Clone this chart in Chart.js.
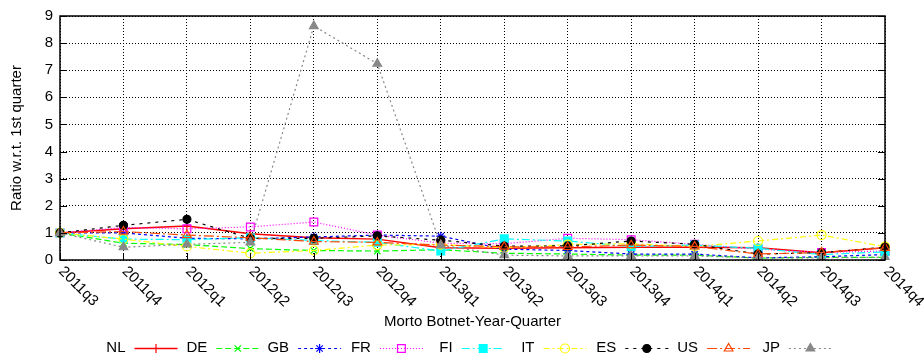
<!DOCTYPE html>
<html>
<head>
<meta charset="utf-8">
<script src="https://cdn.jsdelivr.net/npm/chart.js@4/dist/chart.umd.min.js"></script>
<style>
  html, body { margin: 0; padding: 0; background: #fff; }
  #wrap { width: 924px; height: 360px; }
</style>
</head>
<body>
<div id="wrap"><canvas id="c" width="924" height="360"></canvas></div>
<script>
// Quarter labels along the x axis
const quarters = ['2011q3','2011q4','2012q1','2012q2','2012q3','2012q4','2013q1',
                  '2013q2','2013q3','2013q4','2014q1','2014q2','2014q3','2014q4'];

// Ratio of infections relative to the first quarter, per country
const NL = [1.00, 1.15, 1.25, 0.97, 0.82, 0.77, 0.45, 0.43, 0.45, 0.47, 0.47, 0.45, 0.27, 0.45];
const DE = [1.00, 0.62, 0.57, 0.42, 0.35, 0.33, 0.38, 0.25, 0.22, 0.18, 0.18, 0.07, 0.10, 0.10];
const GB = [1.00, 1.00, 0.80, 0.78, 0.85, 0.92, 0.88, 0.40, 0.35, 0.22, 0.22, 0.08, 0.12, 0.20];
const FR = [1.00, 1.20, 1.15, 1.22, 1.40, 0.92, 0.62, 0.60, 0.80, 0.75, 0.58, 0.40, 0.28, 0.33];
const FI = [1.00, 0.77, 0.75, 0.82, 0.72, 0.65, 0.33, 0.78, 0.70, 0.50, 0.55, 0.43, 0.20, 0.30];
const IT = [1.00, 0.77, 0.50, 0.25, 0.35, 0.55, 0.57, 0.45, 0.57, 0.60, 0.50, 0.70, 0.92, 0.49];
const ES = [1.00, 1.28, 1.50, 0.80, 0.80, 0.89, 0.73, 0.51, 0.52, 0.70, 0.58, 0.22, 0.27, 0.47];
const US = [1.00, 1.05, 0.92, 0.82, 0.68, 0.65, 0.55, 0.49, 0.48, 0.55, 0.50, 0.22, 0.28, 0.45];
const JP = [1.00, 0.47, 0.58, 0.65, 8.63, 7.24, 0.55, 0.18, 0.15, 0.15, 0.15, 0.08, 0.08, 0.10];

const seriesNames = ['NL','DE','GB','FR','FI','IT','ES','US','JP'];
const seriesValues = [NL, DE, GB, FR, FI, IT, ES, US, JP];

// Y axis tick labels
const yTickLabels = ['0','1','2','3','4','5','6','7','8','9'];

// Line / marker styling per series (gnuplot-like)
const looks = [
  { color: '#ff0000', dash: [],            point: 'cross',    r: 4.5, filled: false, lw: 1.5 },
  { color: '#00ff00', dash: [6, 3],        point: 'crossRot', r: 4.5, filled: false, lw: 1.2 },
  { color: '#0000ff', dash: [3, 3],        point: 'star',     r: 4.5, filled: false, lw: 1.2 },
  { color: '#ff00ff', dash: [1, 2],        point: 'rect',     r: 5.5, filled: false, lw: 1.2 },
  { color: '#00ffff', dash: [8, 3, 2, 3],  point: 'rect',     r: 5.5, filled: true,  lw: 1.2 },
  { color: '#ffff00', dash: [6, 3, 2, 3],  point: 'circle',   r: 4.5, filled: false, lw: 1.2 },
  { color: '#000000', dash: [3, 5],        point: 'circle',   r: 4,   filled: true,  lw: 1.2 },
  { color: '#ff4500', dash: [10, 3, 2, 3], point: 'triangle', r: 5,   filled: false, lw: 1.2 },
  { color: '#888888', dash: [2, 3],        point: 'triangle', r: 5,   filled: true,  lw: 1.2 }
];

const FONT = '"Liberation Sans", Arial, Helvetica, sans-serif';
Chart.defaults.font.family = FONT;
Chart.defaults.color = '#000';

const datasets = seriesNames.map((name, i) => ({
  label: name,
  data: seriesValues[i],
  borderColor: looks[i].color,
  borderWidth: looks[i].lw,
  borderDash: looks[i].dash,
  pointStyle: looks[i].point,
  pointRadius: looks[i].r,
  pointBorderWidth: 1.2,
  pointBorderColor: looks[i].color,
  pointBackgroundColor: looks[i].filled ? looks[i].color : 'rgba(0,0,0,0)',
  fill: false,
  tension: 0,
  order: seriesNames.length - i   // later series are drawn on top
}));

function marker(ctx, look, x, y) {
  ctx.save();
  ctx.setLineDash([]);
  ctx.lineWidth = 1.2;
  ctx.strokeStyle = look.color;
  ctx.fillStyle = look.filled ? look.color : 'rgba(0,0,0,0)';
  if (Chart.helpers && Chart.helpers.drawPoint) {
    Chart.helpers.drawPoint(ctx, { pointStyle: look.point, radius: look.r, rotation: 0, borderWidth: 1.2 }, x, y);
  } else {
    ctx.beginPath(); ctx.arc(x, y, look.r, 0, Math.PI * 2); ctx.fill(); ctx.stroke();
  }
  ctx.restore();
}

// Frame, inward ticks, rotated quarter labels and the key row
const decorations = {
  id: 'decorations',
  afterDraw(chart) {
    const { ctx, chartArea: a, scales: { x, y } } = chart;
    ctx.save();

    // inward tick marks
    ctx.strokeStyle = '#000';
    ctx.lineWidth = 1;
    ctx.beginPath();
    const tl = 7;
    quarters.forEach((q, i) => {
      const px = Math.round(x.getPixelForValue(i)) + 0.5;
      ctx.moveTo(px, a.bottom); ctx.lineTo(px, a.bottom - tl);
    });
    yTickLabels.forEach(t => {
      const py = Math.round(y.getPixelForValue(Number(t))) + 0.5;
      ctx.moveTo(a.left, py); ctx.lineTo(a.left + tl, py);
      ctx.moveTo(a.right, py); ctx.lineTo(a.right - tl, py);
    });
    ctx.stroke();

    // plot frame
    ctx.lineWidth = 1.5;
    ctx.strokeRect(a.left, a.top, a.right - a.left, a.bottom - a.top);

    // rotated x labels
    ctx.fillStyle = '#000';
    ctx.font = '15px ' + FONT;
    quarters.forEach((q, i) => {
      const px = x.getPixelForValue(i);
      ctx.save();
      ctx.translate(px + 1, a.bottom + 9);
      ctx.rotate(Math.PI / 4);
      ctx.textAlign = 'left';
      ctx.textBaseline = 'middle';
      ctx.fillText(q, 0, 0);
      ctx.restore();
    });

    // key: name, then line sample with marker
    const ky = 348;
    const firstSample = 134.5, step = 81.8, sampleLen = 43;
    seriesNames.forEach((name, i) => {
      const sx = firstSample + i * step;
      const look = looks[i];
      ctx.fillStyle = '#000';
      ctx.textAlign = 'right';
      ctx.textBaseline = 'middle';
      ctx.fillText(name, sx - 9, ky);
      ctx.save();
      ctx.strokeStyle = look.color;
      ctx.lineWidth = look.lw;
      ctx.setLineDash(look.dash);
      ctx.beginPath();
      ctx.moveTo(sx, ky + 0.5); ctx.lineTo(sx + sampleLen, ky + 0.5);
      ctx.stroke();
      ctx.restore();
      marker(ctx, look, sx + sampleLen / 2, ky + 0.5);
    });

    ctx.restore();
  }
};

new Chart(document.getElementById('c'), {
  type: 'line',
  data: { labels: quarters, datasets },
  plugins: [decorations],
  options: {
    responsive: false,
    animation: false,
    devicePixelRatio: 1,
    layout: { padding: { left: 0, right: 39, top: 15, bottom: 0 } },
    plugins: { legend: { display: false }, tooltip: { enabled: false } },
    scales: {
      x: {
        type: 'category',
        offset: false,
        ticks: { display: false },
        grid: { color: '#000', lineWidth: 1, drawTicks: false, borderDash: [1, 2] },
        border: { display: false, dash: [1, 2] },
        title: {
          display: true, text: 'Morto Botnet-Year-Quarter', color: '#000',
          font: { size: 15, family: FONT }, padding: { top: 0, bottom: 29 }
        },
        afterFit(s) { s.height = 100; }
      },
      y: {
        min: 0, max: 9,
        ticks: {
          stepSize: 1, color: '#000', padding: 7,
          font: { size: 15, family: FONT },
          callback: (v) => yTickLabels[v] !== undefined ? yTickLabels[v] : ''
        },
        grid: { color: '#000', lineWidth: 1, drawTicks: false, borderDash: [1, 2] },
        border: { display: false, dash: [1, 2] },
        title: {
          display: true, text: 'Ratio w.r.t. 1st quarter', color: '#000',
          font: { size: 15, family: FONT }, padding: { top: 8, bottom: 0 }
        },
        afterFit(s) { s.width = 60; }
      }
    }
  }
});
</script>
</body>
</html>
